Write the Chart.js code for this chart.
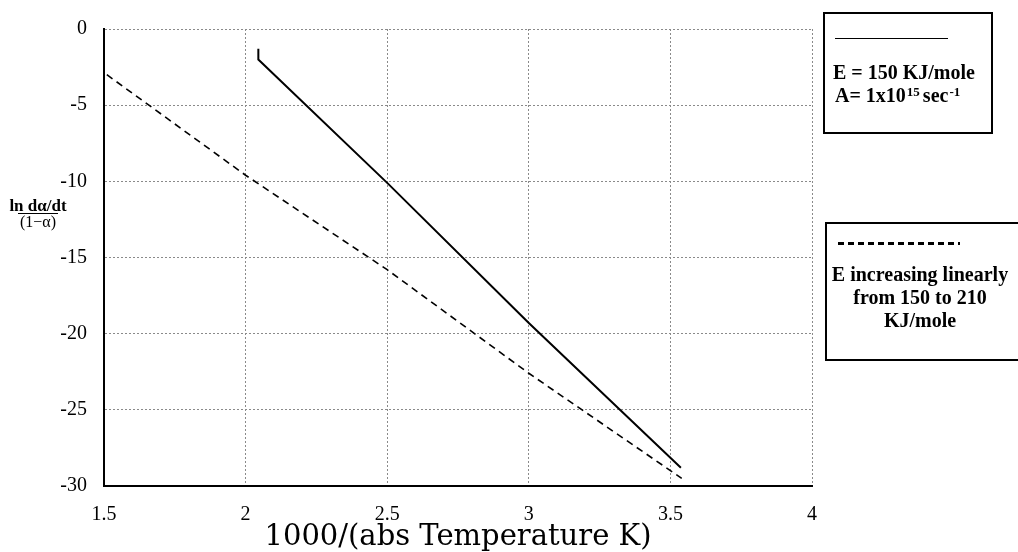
<!DOCTYPE html>
<html>
<head>
<meta charset="utf-8">
<script src="https://cdn.jsdelivr.net/npm/chart.js@4.4.1/dist/chart.umd.min.js"></script>
<style>
  body { margin: 0; background: #fff; }
  .chartBox { position: relative; width: 1018px; height: 552px; overflow: hidden; font-family: "Liberation Serif", "Times New Roman", serif; color: #000; }
  .chartBox canvas { position: absolute; left: 0; top: 0; }
  .legendBox { position: absolute; border: 2px solid #000; box-sizing: border-box; font-weight: bold; font-size: 20px; line-height: 23px; }
  .legendBox sup { font-size: 13px; position: relative; top: -4px; vertical-align: top; margin: 0 3px 0 1px; }
  .yTitle { position: absolute; left: 4px; top: 198px; font-weight: bold; font-size: 17px; line-height: 15px; text-align: center; width: 68px; }
  .yTitle .den { display: inline-block; border-top: 1px solid #000; padding: 0 2px; font-weight: normal; font-size: 16px; }
</style>
</head>
<body>
<div class="chartBox">
  <canvas id="chart" width="1018" height="552"></canvas>

  <div class="yTitle">ln dα/dt<br><span class="den">(1−α)</span></div>

  <div class="legendBox" style="left:823px; top:12px; width:170px; height:122px;">
    <div style="position:absolute; left:10px; top:24px; width:113px; border-top:1.5px solid #000;"></div>
    <div style="position:absolute; left:8px; top:47px; white-space:nowrap;">E = 150 KJ/mole</div>
    <div style="position:absolute; left:10px; top:70px; white-space:nowrap;">A= 1x10<sup>15</sup>sec<sup>-1</sup></div>
  </div>

  <div class="legendBox" style="left:825px; top:222px; width:205px; height:139px;">
    <div style="position:absolute; left:11px; top:18px; width:122px; height:3px; background:repeating-linear-gradient(90deg,#000 0 6px,transparent 6px 10px);"></div>
    <div style="position:absolute; left:0; top:39px; width:186px; text-align:center; white-space:nowrap;">E increasing linearly<br>from 150 to 210<br>KJ/mole</div>
  </div>
</div>

<script>
// Constant E = 150 kJ/mole, A = 1e15 /s
const solidX = [2.045, 2.045, 2.5, 3.0, 3.537];
const solidY = [-1.3, -2.0, -10.1, -19.3, -28.8];

// E increasing linearly from 150 to 210 kJ/mole
const dashedX = [1.51, 2.0, 2.5, 3.0, 3.54];
const dashedY = [-3.0, -9.6, -15.8, -22.6, -29.5];

const xTicks = [1.5, 2, 2.5, 3, 3.5, 4];
const yTicks = [0, -5, -10, -15, -20, -25, -30];

const toPoints = (xs, ys) => xs.map((x, i) => ({ x, y: ys[i] }));

const tickFont = { family: "Liberation Serif", size: 20 };

const grid = { color: "#8a8a8a", lineWidth: 1, drawTicks: false };
const border = { display: true, color: "#000", width: 2, dash: [2, 2] };

const datasets = [
  {
    label: "E = 150 KJ/mole",
    data: toPoints(solidX, solidY),
    showLine: true,
    borderColor: "#000",
    borderWidth: 2,
    pointRadius: 0,
  },
  {
    label: "E increasing linearly from 150 to 210 KJ/mole",
    data: toPoints(dashedX, dashedY),
    showLine: true,
    borderColor: "#000",
    borderWidth: 1.6,
    borderDash: [7, 5],
    pointRadius: 0,
  },
];

const chart = new Chart(document.getElementById("chart"), {
  type: "scatter",
  data: { datasets },
  options: {
    responsive: false,
    animation: false,
    events: [],
    layout: { padding: { top: 24, right: 206, left: 0, bottom: 0 } },
    plugins: { legend: { display: false }, tooltip: { enabled: false } },
    scales: {
      x: {
        type: "linear",
        min: xTicks[0],
        max: xTicks[xTicks.length - 1],
        afterFit: (scale) => { scale.height = 66; },
        afterBuildTicks: (scale) => { scale.ticks = xTicks.map((v) => ({ value: v })); },
        ticks: { font: tickFont, color: "#000", padding: 17, maxRotation: 0, callback: (v) => String(v) },
        grid,
        border,
        title: {
          display: true,
          text: "1000/(abs Temperature K)",
          font: { family: "DejaVu Serif", size: 29, lineHeight: 1 },
          color: "#000",
          padding: { top: 0, bottom: 0 },
        },
      },
      y: {
        type: "linear",
        min: yTicks[yTicks.length - 1],
        max: yTicks[0],
        afterFit: (scale) => { scale.width = 104; },
        afterBuildTicks: (scale) => { scale.ticks = yTicks.map((v) => ({ value: v })); },
        ticks: { font: tickFont, color: "#000", padding: 17, callback: (v) => String(v) },
        grid,
        border,
      },
    },
  },
});
</script>
</body>
</html>
